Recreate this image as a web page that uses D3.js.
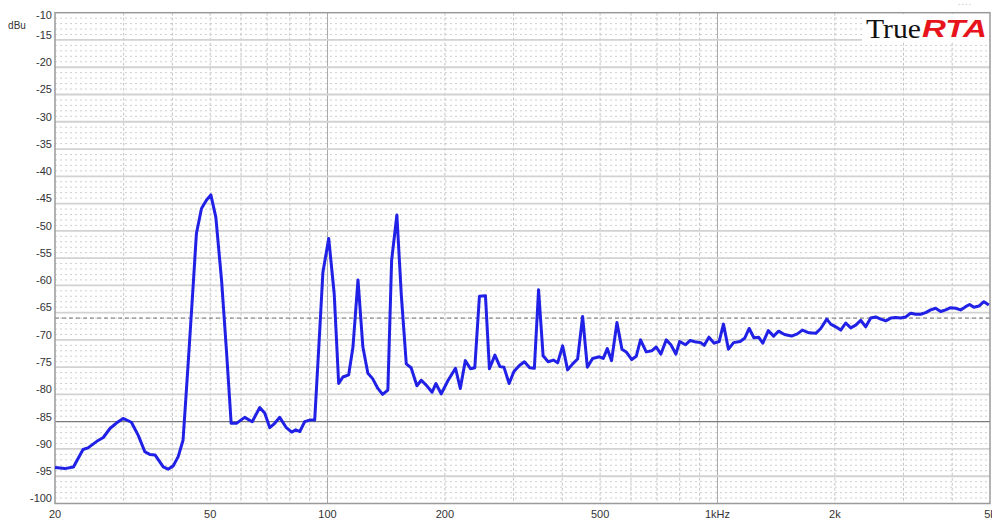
<!DOCTYPE html>
<html>
<head>
<meta charset="utf-8">
<script src="https://cdn.jsdelivr.net/npm/d3@7"></script>
<style>
  body { margin: 0; background: #fff; }
  svg { display: block; font-family: "Liberation Sans", Arial, sans-serif; }
</style>
</head>
<body>
<svg width="992" height="520"></svg>
<script>
// spectrum: frequency (Hz) and level (dBu)
var freqs = [20, 21.2, 22.3, 23.6, 24.3, 25.6, 26.6, 27.7, 28.8, 29.9, 31.4, 32.7, 34.0, 35.0, 36.1, 37.9, 39.0, 40.2, 41.4, 42.6,
  43.8, 45.2, 46.1, 47.5, 48.9, 50.2, 51.7, 53.5, 55.1, 56.6, 58.4, 61.3, 64.1, 67.0, 69.0, 71.1, 73.2, 75.4, 78.4, 80.9,
  82.9, 84.9, 87.4, 90.0, 92.7, 95.5, 97.3, 100.7, 104.0, 106.8, 109.5, 113.3, 116.2, 119.7, 123.2, 126.9, 130.5, 134.6, 138.4, 142.8,
  146.0, 150.6, 154.6, 159.2, 163.8, 169.5, 173.9, 179.1, 185.4, 189.6, 195.7, 203.5, 212.9, 219.0, 225.6, 232.6, 238.6, 245.2, 254.1, 260.1,
  268.7, 276.8, 283.4, 292.2, 300.6, 310.5, 319.8, 330.0, 339.2, 347.7, 357.1, 368.0, 379.4, 389.2, 400.8, 412.8, 425.2, 437.9, 451.0, 463.7,
  478.4, 497.7, 509.5, 521.7, 535.1, 552.4, 568.9, 583.5, 602.8, 619.0, 634.9, 656.6, 678.2, 696.5, 716.1, 738.8, 759.5, 782.3, 800.0, 827.7,
  851.5, 882.2, 905.9, 924.8, 950.8, 980.9, 1010, 1036, 1067, 1100, 1143, 1174, 1206, 1240, 1275, 1307, 1350, 1393, 1435, 1486,
  1549, 1603, 1651, 1717, 1787, 1840, 1907, 1952, 2011, 2071, 2133, 2197, 2263, 2330, 2400, 2472, 2546, 2622, 2701, 2782,
  2865, 2951, 3039, 3130, 3224, 3320, 3420, 3522, 3627, 3736, 3848, 3963, 4082, 4204, 4330, 4433, 4547, 4683, 4823, 4966];

var levels = [-93.4, -93.6, -93.3, -90.1, -89.8, -88.6, -87.9, -86.2, -85.2, -84.4, -85.1, -87.5, -90.5, -91.0, -91.1, -93.3, -93.7, -93.1, -91.4, -88.4,
  -75.5, -60.3, -50.5, -45.9, -44.4, -43.4, -47.5, -59.2, -72.4, -85.3, -85.3, -84.2, -85.0, -82.4, -83.4, -86.1, -85.3, -84.2, -86.1, -86.9,
  -86.5, -86.8, -85.0, -84.7, -84.7, -68.2, -57.6, -51.4, -61.5, -78.0, -76.8, -76.4, -71.3, -59.0, -71.3, -76.1, -77.1, -78.9, -80.0, -79.2,
  -55.4, -47.1, -61.8, -74.4, -75.1, -78.4, -77.4, -78.3, -79.6, -78.0, -79.9, -77.5, -75.2, -78.9, -73.8, -75.3, -75.1, -62.0, -61.9, -75.3,
  -72.8, -74.9, -75.0, -78.0, -75.8, -74.7, -74.0, -75.1, -75.2, -60.8, -72.9, -74.0, -73.7, -74.2, -71.1, -75.5, -74.4, -73.5, -65.7, -75.0,
  -73.4, -73.1, -73.4, -71.6, -73.8, -66.8, -71.7, -72.2, -73.6, -73.0, -70.0, -72.2, -72.0, -71.3, -72.6, -70.0, -70.9, -72.6, -70.3, -70.9,
  -70.1, -70.4, -70.5, -71.0, -69.5, -70.6, -70.3, -67.1, -71.7, -70.5, -70.3, -69.7, -67.9, -69.6, -69.5, -70.6, -68.3, -69.3, -68.4, -69.0,
  -69.3, -68.9, -68.2, -68.7, -68.8, -67.9, -66.2, -67.1, -67.6, -68.2, -66.9, -67.8, -67.3, -66.4, -67.6, -66.0, -65.8, -66.2, -66.5, -66.0,
  -65.9, -66.0, -65.8, -65.1, -65.3, -65.3, -65.0, -64.5, -64.2, -64.8, -64.5, -64.1, -64.2, -64.5, -63.9, -63.5, -64.0, -63.8, -63.0, -63.6];

var xTicks = [20, 50, 100, 200, 500, 1000, 2000, 5000];
var xTickLabels = ["20", "50", "100", "200", "500", "1kHz", "2k", "5k"];
var xSolid = [100, 1000];
var yTicks = d3.range(-10, -101, -5);
var refSolid = -85;   // dark reference lines
var refDashed = -66;

var svg = d3.select("svg");
var pLeft = 55, pRight = 990, pTop = 12.7, pBottom = 503.5;

var x = d3.scaleLog().domain([20, 5000]).range([pLeft, pRight]);
var y = d3.scaleLinear().domain([-100, -10]).range([pBottom, pTop]);

var grid = svg.append("g");

// 1 dB dotted rows
grid.selectAll(".minorh").data(d3.range(-99, -10).filter(function(d) { return d % 5 != 0; }))
  .enter().append("line")
  .attr("x1", pLeft).attr("x2", pRight)
  .attr("y1", function(d) { return y(d); }).attr("y2", function(d) { return y(d); })
  .attr("stroke", "#cfcfcf").attr("stroke-width", 1).attr("stroke-dasharray", "2,3");

// vertical decade lines
var vLines = [];
[10, 100, 1000].forEach(function(dec) {
  for (var k = 1; k <= 9; k++) {
    var f = dec * k;
    if (f > 20 && f < 5000) vLines.push(f);
  }
});
grid.selectAll(".vline").data(vLines).enter().append("line")
  .attr("x1", function(d) { return x(d); }).attr("x2", function(d) { return x(d); })
  .attr("y1", pTop).attr("y2", pBottom)
  .attr("stroke", function(d) { return xSolid.indexOf(d) >= 0 ? "#a8a8a8" : "#c4c4c4"; })
  .attr("stroke-width", 1)
  .attr("stroke-dasharray", function(d) { return xSolid.indexOf(d) >= 0 ? null : "3,2"; });

// 5 dB lines
grid.selectAll(".majorh").data(yTicks.filter(function(d) { return d > -100 && d < -10; }))
  .enter().append("line")
  .attr("x1", pLeft).attr("x2", pRight)
  .attr("y1", function(d) { return y(d); }).attr("y2", function(d) { return y(d); })
  .attr("stroke", function(d) { return d == refSolid ? "#7a7a7a" : "#d2d2d2"; })
  .attr("stroke-width", function(d) { return d == refSolid ? 1.2 : 1.8; });

grid.append("line")
  .attr("x1", pLeft).attr("x2", pRight)
  .attr("y1", y(refDashed)).attr("y2", y(refDashed))
  .attr("stroke", "#6e6e6e").attr("stroke-width", 1).attr("stroke-dasharray", "4,3");

// frame
svg.append("rect")
  .attr("x", pLeft).attr("y", pTop)
  .attr("width", pRight - pLeft).attr("height", pBottom - pTop)
  .attr("fill", "none").attr("stroke", "#9a9a9a").attr("stroke-width", 1.5);

// y labels
svg.append("g").selectAll("text").data(yTicks).enter().append("text")
  .attr("x", 52)
  .attr("y", function(d) { return Math.max(y(d) - 5, 15); })
  .attr("dy", "0.35em")
  .attr("text-anchor", "end")
  .attr("font-size", 11)
  .attr("fill", "#333")
  .text(function(d) { return d; });

svg.append("text").attr("x", 17).attr("y", 25).attr("dy", "0.35em")
  .attr("text-anchor", "middle").attr("font-size", 10).attr("fill", "#333").text("dBu");

// x labels
svg.append("g").selectAll("text").data(xTicks).enter().append("text")
  .attr("x", function(d) { return x(d); })
  .attr("y", 514)
  .attr("dy", "0.35em")
  .attr("text-anchor", "middle")
  .attr("font-size", 11)
  .attr("fill", "#333")
  .text(function(d, i) { return xTickLabels[i]; });

// the spectrum
var pts = freqs.map(function(f, i) { return [f, levels[i]]; });
svg.append("path")
  .datum(pts)
  .attr("fill", "none")
  .attr("stroke", "#2020e6")
  .attr("stroke-width", 3)
  .attr("stroke-linejoin", "round")
  .attr("d", d3.line().x(function(d) { return x(d[0]); }).y(function(d) { return y(d[1]); }));

// logo
var logo = svg.append("g");
logo.append("rect").attr("x", 862).attr("y", 14).attr("width", 127).attr("height", 28).attr("fill", "#fff");
logo.append("text").attr("x", 866).attr("y", 38).attr("font-size", 28)
  .attr("font-family", "'Liberation Serif', 'DejaVu Serif', serif").attr("fill", "#111")
  .attr("textLength", 55).attr("lengthAdjust", "spacingAndGlyphs").text("True");
logo.append("text").attr("x", 922).attr("y", 37).attr("font-size", 24)
  .attr("font-family", "'Liberation Sans', Arial, sans-serif").attr("font-weight", "bold")
  .attr("font-style", "italic").attr("fill", "#e8141c")
  .attr("textLength", 65).attr("lengthAdjust", "spacingAndGlyphs").text("RTA");

svg.append("text").attr("x", 958).attr("y", 6).attr("font-size", 6).attr("fill", "#999").text("- - - -");
</script>
</body>
</html>
